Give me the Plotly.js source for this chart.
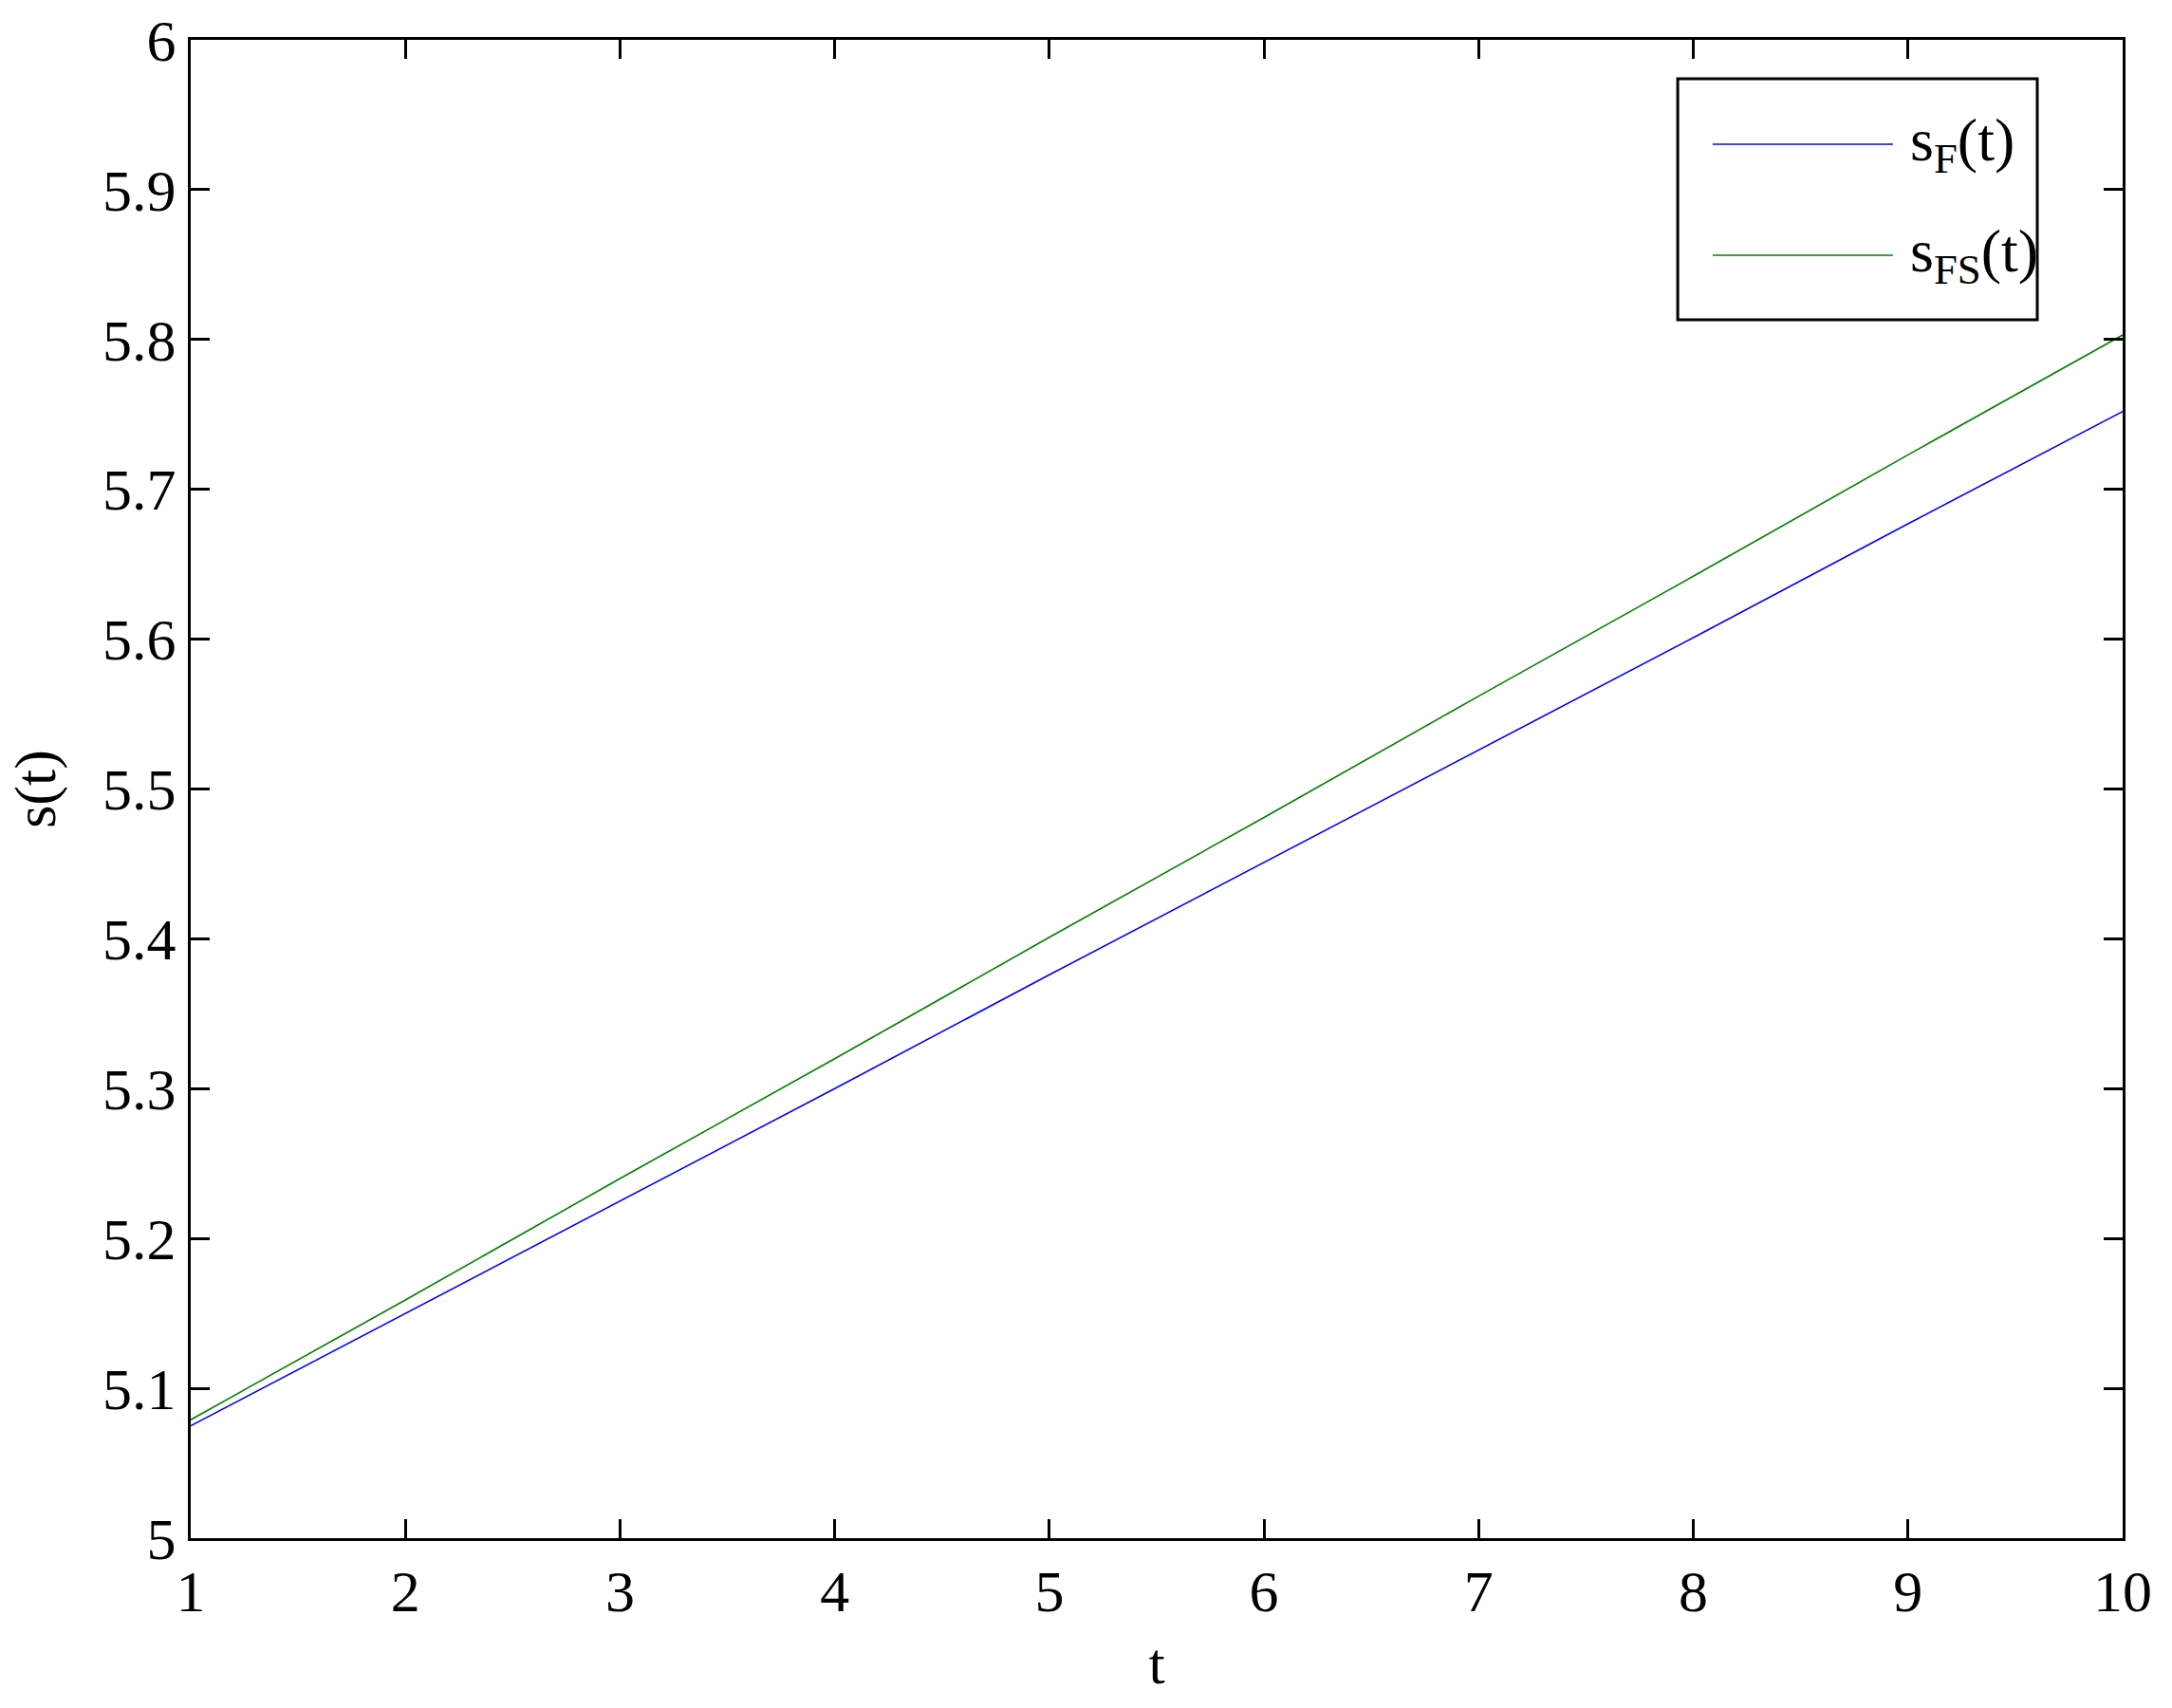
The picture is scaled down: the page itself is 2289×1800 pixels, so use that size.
<!DOCTYPE html>
<html>
<head>
<meta charset="utf-8">
<script src="https://cdn.plot.ly/plotly-3.0.1.min.js"></script>
<style>
  html, body { margin: 0; padding: 0; background: #fff; }
  #chart { width: 2289px; height: 1800px; }
</style>
</head>
<body>
<div id="chart"></div>
<script>
// values
const t = [1, 2, 3, 4, 5, 6, 7, 8, 9, 10];
const sF = [5.075, 5.150, 5.225, 5.300, 5.376, 5.451, 5.526, 5.601, 5.677, 5.752];
const sFS = [5.079, 5.159, 5.240, 5.320, 5.401, 5.481, 5.562, 5.642, 5.723, 5.803];
const names = ['s<sub>F</sub>(t)', 's<sub>FS</sub>(t)'];
const colors = ['#0000ff', '#008000'];

const font = 'Liberation Serif, Times New Roman, serif';

const traces = [sF, sFS].map((ys, i) => ({
    type: 'scatter',
    mode: 'lines',
    x: t,
    y: ys,
    name: names[i],
    line: {color: colors[i], width: 1.6},
    showlegend: false
}));

// MATLAB-style boxed legend, drawn by hand so the sample lines are long
const legendRows = [0.9303, 0.8562];
const shapes = [{
    type: 'rect', xref: 'paper', yref: 'paper',
    x0: 0.7697, x1: 0.9558, y0: 0.8132, y1: 0.974,
    line: {color: '#000', width: 3}, fillcolor: '#fff', layer: 'above'
}];
const annotations = [];
names.forEach((n, i) => {
    shapes.push({
        type: 'line', xref: 'paper', yref: 'paper',
        x0: 0.7878, x1: 0.8811, y0: legendRows[i], y1: legendRows[i],
        line: {color: colors[i], width: 1.6}, layer: 'above'
    });
    annotations.push({
        xref: 'paper', yref: 'paper', x: 0.889, y: legendRows[i],
        xanchor: 'left', yanchor: 'middle', showarrow: false,
        text: n, font: {family: font, size: 64, color: '#000'}
    });
});

const axisCommon = {
    showgrid: false,
    zeroline: false,
    showline: true,
    mirror: 'allticks',
    linecolor: '#000',
    linewidth: 3,
    ticks: 'inside',
    ticklen: 20,
    tickwidth: 3,
    tickcolor: '#000',
    tickfont: {family: font, size: 62, color: '#000'}
};

const layout = {
    width: 2289,
    height: 1800,
    margin: {l: 201, r: 52, t: 42, b: 179},
    paper_bgcolor: '#fff',
    plot_bgcolor: '#fff',
    showlegend: false,
    xaxis: Object.assign({}, axisCommon, {
        range: [1, 10],
        dtick: 1,
        ticklabelstandoff: 0,
        title: {text: 't', font: {family: font, size: 62, color: '#000'}, standoff: 21}
    }),
    yaxis: Object.assign({}, axisCommon, {
        range: [5, 6],
        dtick: 0.1,
        tickformat: '~g',
        ticklabelstandoff: 0,
        title: {text: 's(t)', font: {family: font, size: 62, color: '#000'}, standoff: 30}
    }),
    shapes: shapes,
    annotations: annotations
};

Plotly.newPlot('chart', traces, layout, {displayModeBar: false, staticPlot: true});
</script>
</body>
</html>
